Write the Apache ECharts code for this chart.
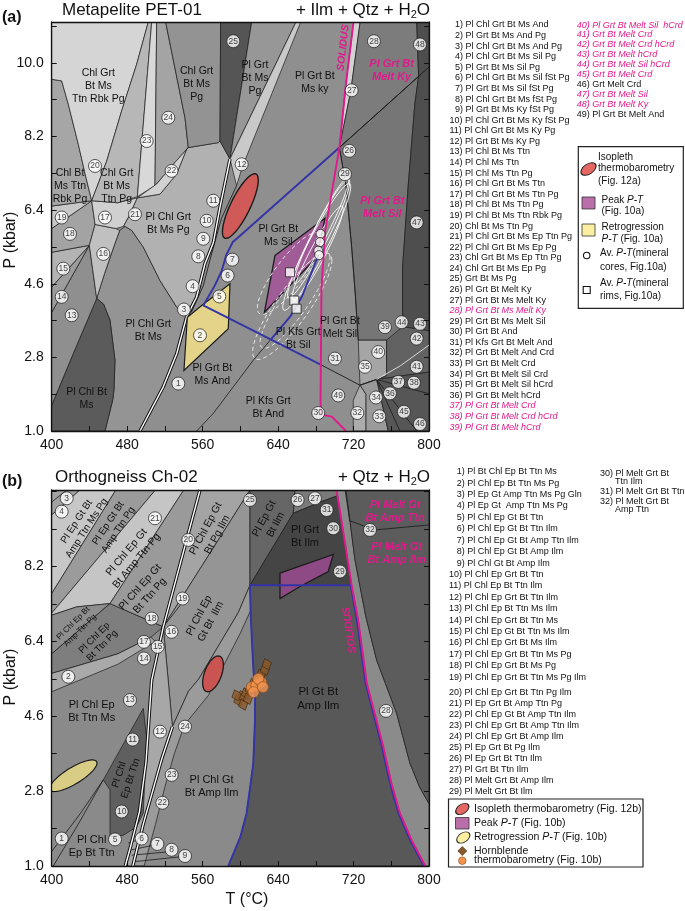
<!DOCTYPE html>
<html><head><meta charset="utf-8">
<script src="https://cdn.jsdelivr.net/npm/echarts/dist/echarts.min.js"></script>
<style>html,body{margin:0;padding:0;background:#fff}#c{width:685px;height:911px}</style>
</head><body><div id="c"></div>
<script>
const FONT = '"Liberation Sans", Arial, Helvetica, sans-serif';

// ---------------- PANEL (a) DATA: T (°C), P (kbar) ----------------
const fA_plChlMs = [[456.5,1.0],[464.7,1.76],[466,2.0],[467.1,2.73],[461.8,3.71],[455,4.1],[447.7,4.24],[456,4.85],[465,5.45],[472,5.9],[478,6.0],[485,5.9],[497,5.5],[514.8,4.68],[532.5,4.03],[543,3.79],[532.5,2.89],[518.3,2.08],[493.6,1.0]];
const fA_chlBtMs = [[400,1.0],[400,1.63],[423,2.9],[447.7,4.24],[455,4.1],[461.8,3.71],[467.1,2.73],[466,2.0],[464.7,1.76],[456.5,1.0]];
const fA_13 = [[400,3.9],[439.9,5.54],[447.7,4.24],[423,2.9],[400,1.63]];
const fA_14 = [[400,4.52],[439.9,5.54],[400,3.9]];
const fA_15 = [[400,5.37],[439.9,5.54],[400,4.52]];
const fA_18 = [[400,5.95],[442.4,6.63],[446,6.05],[439.9,5.54],[400,5.37]];
const fA_19 = [[400,6.5],[442.4,6.63],[400,5.95]];
const fA_chlBtRbk = [[400,9.6],[410.6,9.56],[417.6,8.99],[428.2,8.01],[436.3,7.2],[442.4,6.63],[400,6.5]];
const fA_chlRbk = [[400,11],[502.4,11],[490,9.96],[474.2,8.83],[458.3,7.6],[447.7,6.95],[442.4,6.63],[436.3,7.2],[428.2,8.01],[417.6,8.99],[410.6,9.56],[400,9.6]];
const fA_16 = [[439.9,5.54],[446,6.05],[468,5.95],[472,5.9],[465,5.45],[456,4.85],[447.7,4.24]];
const fA_17 = [[442.4,6.63],[470,6.58],[490.8,6.7],[482,6.25],[476,6.0],[468,5.95],[446,6.05]];
const fA_chlTtnPg = [[502.4,11],[506,11],[490.8,6.73],[470,6.58],[442.4,6.63],[447.7,6.95],[458.3,7.6],[474.2,8.83],[490,9.96]];
const fA_23 = [[506,11],[511.3,11],[509.5,7.0],[490.8,6.73]];
const fA_24 = [[511.3,11],[520.8,11],[541.3,8.66],[544.8,7.93],[528.9,7.52],[511.3,7.04],[509.5,7.0]];
const fA_plChlPg = [[490.8,6.7],[514.8,6.79],[532.4,7.28],[543,7.89],[544.8,7.93],[576.6,8.05],[578.4,8.09],[589,7.65],[578.4,6.47],[571.3,5.6],[562.5,5.09],[553.6,4.27],[543,3.79],[532.5,4.03],[514.8,4.68],[497,5.5],[485,5.9],[478,6.0],[476,6.0],[482,6.25]];
const fA_22 = [[490.8,6.7],[511.3,7.04],[528.9,7.52],[544.8,7.93],[543,7.89],[532.4,7.28],[514.8,6.79]];
const fA_chlPg = [[520.8,11],[579.1,11],[578.4,8.09],[576.6,8.05],[544.8,7.93],[541.3,8.66]];
const fA_25 = [[579.1,11],[612,11],[589,7.65],[578.4,8.09]];
const fA_plPg = [[612,11],[659,11],[589,7.65]];
const fA_12 = [[659,11],[664,11],[602,7.45],[596,7.0],[589,7.65]];
const fA_msMeltKy = [[720,11],[727,11],[717,9.3],[705,7.93],[712,9.5]];
const fA_meltKy = [[727,11],[787,11],[789,9.67],[705,7.93],[717,9.3]];
const fA_meltSilM = [[705,7.93],[789,9.67],[785,9.0],[778,7.0],[772,5.0],[772,3.55],[765.7,3.22],[725,3.22],[722,4.3],[718,5.5],[712,7.0]];
const fA_farRight = [[787,11],[800,11],[800,3.45],[772,3.55],[772,5.0],[778,7.0],[785,9.0],[789,9.67]];
const fA_40 = [[725,3.22],[755,3.22],[755,2.35],[744.5,2.26],[726.8,2.12]];
const fA_33 = [[726.8,2.12],[744.5,2.26],[756.8,1.0],[733,1.0],[733,1.9]];
const fA_32 = [[719.7,1.75],[726.8,2.12],[733,1.9],[733,1.0],[719.7,1.0]];
const fA_41 = [[755,3.22],[772,3.55],[800,3.45],[800,2.44],[744.5,2.26],[755,2.35]];
const fA_45 = [[744.5,2.26],[800,2.44],[800,1.0],[756.8,1.0]];

const peakA = [[636.7,5.29],[689.7,6.2],[681,5.25],[625.5,3.9]];
const retroA = [[540.2,2.48],[543.8,3.78],[559,4.07],[589,4.6],[587.2,3.5]];
// ellipses: [T centre, P centre, half-range T, half-range P, correlation]
const isoA = [[600,6.5,19,0.79,0.8]];
const coreEllA = [[683,5.7,33,1.45,0.955],[681,5.5,36,1.55,0.95],[686,5.9,29,1.3,0.96],[682,5.35,27,1.15,0.94]];
const rimEllA = [[655,4.05,42,1.3,0.86],[652,4.85,34,1.0,0.84],[658,4.2,37,1.18,0.88]];
const coresA = [[685,5.82],[684.4,5.62],[682.6,5.41],[683.5,5.3]];
const rimsA = [[652.6,4.88],[657.2,4.19],[659.6,3.99]];

const solidusA = [[720,11],[712,9.5],[705,7.93],[690,5.9],[686,4.5],[685,1.7],[686,1.4],[697,1.35],[712,1.0]];
const blueA1 = [[705,7.93],[597,5.72],[592,5.62],[585,5.3],[580,4.9],[573,4.56],[560.7,4.07],[686.2,2.61]];
const blueA2 = [[633.1,3.26],[652.6,3.79],[665,4.27],[675,4.85],[686,5.5]];
const kfsA = [[553.7,1.0],[571.3,1.43],[592.5,2.08],[613.7,2.73],[633.1,3.26]];
const andSilA = [[686.2,2.61],[726.8,2.12],[744.5,2.26]];
const kySilA = [[705,7.93],[800,9.9]];
const line29A = [[705,7.93],[712,7.0],[718,5.5],[722,4.3],[725,3.22]];
const dbl1A = [[543,3.79],[532.5,2.89],[518.3,2.08],[493.6,1.0]];
const dbl2A = [[543,3.79],[553.6,4.27],[562.5,5.09],[571.3,5.6],[578.4,6.47],[589,7.65]];
const thin3A = [[548,3.9],[560.7,4.55],[568,5.2],[580,6.2],[596,7.0]];
const radA1 = [[744.5,2.26],[800,1.91]];
const radA2 = [[744.5,2.26],[786.9,1.0]];
const radA3 = [[744.5,2.26],[769.2,1.0]];
const lightA = [[744.5,2.26],[770,2.6],[800,3.1]];

const txtA = [
 [449.4,9.43,'Chl Grt\nBt Ms\nTtn Rbk Pg'],[553.6,9.48,'Chl Grt\nBt Ms\nPg'],[615.5,9.64,'Pl Grt\nBt Ms\nPg'],
 [679,9.52,'Pl Grt Bt\nMs ky'],[419.4,6.99,'Chl Bt\nMs Ttn\nRbk Pg'],[468.9,6.99,'Chl Grt\nBt Ms\nTtn Pg'],
 [523.6,6.06,'Pl Chl Grt\nBt Ms Pg'],[640.2,5.78,'Pl Grt Bt\nMs Sil'],[502.4,3.46,'Pl Chl Grt\nBt Ms'],
 [437,1.79,'Pl Chl Bt\nMs'],[570.3,2.39,'Pl Grt Bt\nMs And'],[629.6,1.57,'Pl Kfs Grt\nBt And'],
 [661.4,3.26,'Pl Kfs Grt\nBt Sil'],[705.6,3.54,'Pl Grt Bt\nMelt Sil']
];
const txtMagA = [[760.4,9.82,'Pl Grt Bt\nMelt Ky'],[750.5,6.47,'Pl Grt Bt\nMelt Sil']];
const solTxtA = [[709.1,10.37,'SOLIDUS']];
const numA = [
 [592.5,10.53,25],[523.6,8.66,24],[500.7,8.09,23],[527.1,7.36,22],[445.9,7.48,20],[601.4,7.52,12],[571.3,6.63,11],[564.3,6.14,10],[488.3,6.3,21],[456.5,6.22,17],[410.6,6.22,19],[419.4,5.82,18],
 [560.7,5.7,9],[555.4,5.27,8],[591.5,5.19,7],[586.5,4.8,6],[549.4,4.54,4],[577.7,4.29,5],[540.2,3.97,3],[557.2,3.34,2],[534.2,2.16,1],[454.7,5.33,16],[412.3,4.97,15],[410.6,4.28,14],[421.2,3.83,13],
 [741.6,10.53,28],[790.4,10.45,48],[718,9.33,27],[715.5,7.85,26],[710.9,7.28,29],[786.9,6.1,47],
 [753.3,3.54,39],[771,3.66,44],[790.4,3.62,43],[786.9,3.26,42],[746.2,2.93,40],[786.9,2.57,41],[732.1,2.57,35],[700.3,2.77,31],[767.4,2.2,37],[784,2.18,38],[758.6,1.92,36],[743.8,1.82,34],[703.8,1.87,49],[773.4,1.47,45],[682.6,1.44,30],[724,1.44,32],[747.3,1.36,33],[790.4,1.17,46]
];
const listA = ['Pl Chl Grt Bt Ms And','Pl Grt Bt Ms And Pg','Pl Chl Grt Bt Ms And Pg','Pl Chl Grt Bt Ms Sil Pg','Pl Grt Bt Ms Sil Pg','Pl Chl Grt Bt Ms Sil fSt Pg','Pl Grt Bt Ms Sil fSt Pg','Pl Chl Grt Bt Ms fSt Pg','Pl Grt Bt Ms Ky fSt Pg','Pl Chl Grt Bt Ms Ky fSt Pg','Pl Chl Grt Bt Ms Ky Pg','Pl Grt Bt Ms Ky Pg','Pl Chl Bt Ms Ttn','Pl Chl Ms Ttn','Pl Chl Ms Ttn Pg','Pl Chl Grt Bt Ms Ttn','Pl Chl Grt Bt Ms Ttn Pg','Pl Chl Bt Ms Ttn Pg','Pl Chl Bt Ms Ttn Rbk Pg','Chl Bt Ms Ttn Pg','Pl Chl Grt Bt Ms Ep Ttn Pg','Pl Chl Grt Bt Ms Ep Pg','Chl Grt Bt Ms Ep Ttn Pg','Chl Grt Bt Ms Ep Pg','Grt Bt Ms Pg','Pl Grt Bt Melt Ky','Pl Grt Bt Ms Melt Ky','Pl Grt Bt Ms Melt Ky','Pl Grt Bt Ms Melt Sil','Pl Grt Bt And','Pl Kfs Grt Bt Melt And','Pl Grt Bt Melt And Crd','Pl Grt Bt Melt Crd','Pl Grt Bt Melt Sil Crd','Pl Grt Bt Melt Sil hCrd','Pl Grt Bt Melt hCrd','Pl Grt Bt Melt Crd','Pl Grt Bt Melt Crd hCrd','Pl Grt Bt Melt hCrd','Pl Grt Bt Melt Sil  hCrd','Grt Bt Melt Crd','Grt Bt Melt Crd hCrd','Grt Bt Melt hCrd','Grt Bt Melt Sil hCrd','Grt Bt Melt Crd','Grt Melt Crd','Grt Bt Melt Sil','Grt Bt Melt Ky','Pl Grt Bt Melt And'];
const magListA = [28,37,38,39,40,41,42,43,44,45,47,48];

// ---------------- PANEL (b) DATA ----------------
const fB_3 = [[400,10.04],[430,10.04],[400,9.44]];
const fB_msPg = [[430,10.04],[468,10.04],[400,7.55],[400,9.44]];
const fB_ttnPg = [[468,10.04],[510,10.04],[400,7.08],[400,7.55]];
const fB_chlAmp = [[510,10.04],[540,10.04],[461.8,7.31],[426.5,7.23],[400,7.03],[400,7.08]];
const fB_btAmp = [[400,7.03],[426.5,7.23],[461.8,7.31],[400,6.1]];
const fB_btTtnPg = [[400,6.1],[461.8,7.31],[518.3,6.75],[505,6.5],[470,6.1],[400,5.63]];
const fB_2 = [[400,5.63],[470,6.1],[505,6.5],[510,6.4],[470,5.85],[400,5.19]];
const fB_gtTtnPg = [[461.8,7.31],[540,10.04],[557.2,10.04],[518.3,6.75]];
const fB_pgIlm = [[557.2,10.04],[610.2,10.04],[518.3,6.75]];
const fB_ilm = [[518.3,6.75],[610.2,10.04],[610.2,7.75],[598,7.1],[556,5.5],[545,5.2],[528,4.35]];
const fB_12 = [[478,1.0],[484,1.5],[493,2.3],[500,3.5],[503,4.5],[506,5.47],[518.3,6.75],[528,4.35],[517,3.6],[507,2.8],[497,2.0],[486,1.0]];
const fB_2224 = [[486,1.0],[497,2.0],[507,2.8],[517,3.6],[528,4.35],[545,5.2],[556,5.5],[598,7.1],[610.2,7.75],[611,7.3],[612,7.2],[600,6.6],[566,5.1],[541,4.4],[530,3.7],[520,2.9],[510,2.0],[498,1.0]];
const fB_darkTtn = [[454.7,3.07],[497.1,4.79],[500.7,4.07],[497.1,2.27],[490,1.94],[476,1.74],[461.8,1.7],[461.8,2.83]];
const fB_ampIlm = [[587.2,1.0],[600,1.7],[606.6,2.27],[611,3.0],[613.7,3.47],[615.5,4.5],[615.5,5.11],[613.7,5.79],[611,7.0],[610.2,7.75],[718,7.75],[725,6.9],[734,5.4],[742,4.7],[751.5,3.87],[760,3.0],[769.2,2.27],[782,1.6],[796,1.0]];
const fB_epIlm = [[610.2,10.04],[658,10.04],[656.1,9.48],[610.2,7.75]];
const fB_2627 = [[658,10.04],[702,10.04],[705,9.92],[685,9.75],[656.1,9.48]];
const fB_grtIlm = [[610.2,7.75],[656.1,9.48],[685,9.75],[705,9.92],[710,8.9],[718,7.75]];
const fB_meltStrip = [[702,10.04],[712,10.04],[721.5,8.36],[733,7.0],[744.5,5.95],[765.7,4.67],[779.8,3.47],[790,2.9],[800,2.5],[800,1.0],[796,1.0],[782,1.6],[769.2,2.27],[760,3.0],[751.5,3.87],[742,4.7],[734,5.4],[725,6.9],[718,7.75],[710,8.9]];
const fB_meltRight = [[712,10.04],[800,10.04],[800,2.5],[790,2.9],[779.8,3.47],[765.7,4.67],[744.5,5.95],[733,7.0],[721.5,8.36]];

const peakB = [[642,8.04],[698.5,8.49],[693.2,8.08],[663.2,7.72],[642,7.43]];
const isoB = [[571,5.62,11,0.43,0.5]];
const retroB = [[423,3.17,25,0.38,0.8]];
const hblB = [[598,4.98],[602,5.08],[606,5.15],[610,5.25],[614,5.38],[618,5.48],[622,5.6],[626,5.72],[628,5.85],[603,4.88],[608,5.02],[596,5.1]];
const thermoB = [[612,5.3],[617,5.35],[622,5.42],[619,5.5],[614,5.18],[624,5.3]];

const solidusB = [[702,10.04],[710,8.9],[718,7.75],[725,6.9],[734,5.4],[742,4.7],[751.5,3.87],[760,3.0],[769.2,2.27],[782,1.6],[796,1.0]];
const blueB = [[587.2,1.0],[600,1.7],[606.6,2.27],[611,3.0],[613.7,3.47],[615.5,4.5],[615.5,5.11],[613.7,5.79],[611,7.0],[610.2,7.75],[717,7.75],[723.6,6.9],[732.6,5.4],[740.6,4.7],[750,3.87],[758.5,3.0],[767.6,2.27],[780.5,1.6],[794.5,1.0]];
const dbl1B = [[478,1.0],[484,1.5],[493,2.3],[500,3.5],[503,4.5],[506,5.47],[518.3,6.75],[557.2,10.04]];
const dbl2B = [[486,1.0],[497,2.0],[507,2.8],[517,3.6],[528,4.35]];
const l1B = [[401.7,1.0],[428,2.0],[454.7,3.07]];
const l1bB = [[400,1.35],[430,2.25],[454.7,3.07]];
const l19B = [[518.3,6.75],[537.7,7.31]];
const l34B = [[400,9.75],[416,10.04]];
const meltLineB = [[711,10.04],[716,9.3],[742.7,9.08],[800,9.2]];
const shortB1 = [[481.2,1.55],[491.8,1.63]];
const shortB2 = [[483,1.38],[507.7,1.5]];
const shortB3 = [[484.8,1.26],[523.6,1.34]];
const shortB4 = [[485.5,1.1],[536,1.22]];

const txtB = [
 [431.8,9.2,'Pl Ep Gt Bt\nAmp Ttn Ms Pg'],[465.3,9.16,'Pl Ep Gt Bt\nAmp Ttn Pg'],[484.8,8.44,'Pl Chl Ep Gt\nBt Amp Ttn Pg'],
 [498.9,7.6,'Pl Chl Ep Gt\nBt Ttn Pg'],[569.5,9.04,'Pl Chl Ep Gt\nBt Pg Ilm'],[562.5,6.95,'Pl Chl Ep\nGt Bt  Ilm'],
 [631.4,9.28,'Pl Ep Gt\nBt Ilm'],[668.5,8.93,'Pl Grt\nBt Ilm'],[426.5,6.75,'Pl Chl Ep Bt\nAmp Ttn Pg'],
 [449.4,6.39,'Pl Chl Ep\nBt Ttn Pg'],[442.4,4.71,'Pl Chl Ep\nBt Ttn Ms'],[477.7,3.15,'Pl Chl\nEp Bt Ttn'],
 [442.4,1.46,'Pl Chl\nEp Bt Ttn'],[569.5,2.91,'Pl Chl Gt\nBt Amp Ilm'],[682.6,5.03,'Pl Gt Bt\nAmp Ilm']
];
const rotB = [57,57,50,48,62,62,62,0,45,45,0,72,0,0,0];
const sizeB = [10,10,10.5,10.5,10.5,10.5,10.5,11,8,9.5,11,10,11,11,11.5];
const txtMagB = [[764,9.52,'Pl Melt Gt\nBt Amp Ttn'],[765.7,8.52,'Pl Melt Gt\nBt Amp Ilm']];
const solTxtB = [[716,6.67,'SOLIDUS']];
const numB = [
 [415.9,9.84,3],[410.6,9.52,4],[509.5,9.36,21],[544.8,8.84,20],[538.8,7.43,19],[506,6.95,18],[527.1,6.63,16],[497.8,6.39,17],[512.3,6.27,15],[497.8,5.99,14],[417.6,5.55,2],
 [610.2,9.8,25],[660.7,9.8,26],[679.1,9.84,27],[691.5,9.56,31],[698.5,9.12,30],[737.4,9.08,32],[705.6,8.08,29],[754.4,4.73,28],
 [483,4.99,13],[541.3,4.35,24],[514.8,4.23,12],[485.8,4.04,11],[527.2,3.19,23],[517.3,2.52,22],[474.2,2.31,10],[410.6,1.66,1],[467.1,1.64,5],[495.4,1.66,6],[512,1.53,7],[527.1,1.39,8],[541.3,1.24,9]
];
const listB = ['Pl Bt Chl Ep Bt Ttn Ms','Pl Chl Ep Bt Ttn Ms Pg','Pl Ep Gt Amp Ttn Ms Pg Gln','Pl Ep Gt  Amp Ttn Ms Pg','Pl Chl Ep Gt Bt Ttn','Pl Chl Ep Gt Bt Ttn Ilm','Pl Chl Ep Gt Bt Amp Ttn Ilm','Pl Chl Ep Gt Bt Amp Ilm','Pl Chl Gt Bt Amp Ilm','Pl Chl Ep Grt Bt Ttn','Pl Chl Ep Bt Ttn Ilm','Pl Chl Ep Grt Bt Ttn Ilm','Pl Chl Ep Bt Ttn Ms Ilm','Pl Chl Ep Grt Bt Ttn Ms','Pl Chl Ep Gt Bt Ttn Ms Ilm','Pl Chl Ep Grt Bt Ms Ilm','Pl Chl Ep Grt Bt Ttn Ms Pg','Pl Chl Ep Grt Bt Ms Pg','Pl Chl Ep Grt Bt Ttn Ms Pg Ilm','Pl Chl Ep Grt Bt Ttn Pg Ilm','Pl Ep Grt Bt Amp Ttn Pg','Pl Chl Ep Gt Bt Amp Ttn Ilm','Pl Chl Ep Grt Bt Amp Ttn Ilm','Pl Chl Ep Grt Bt Amp Ilm','Pl Ep Grt Bt Pg Ilm','Pl Ep Grt Bt Ttn Ilm','Pl Grt Bt Ttn Ilm','Pl Melt Grt Bt Amp Ilm','Pl Melt Grt Bt Ilm'];
const listB2 = ['30) Pl Melt Grt Bt','      Ttn Ilm','31) Pl Melt Grt Bt Ttn','32) Pl Melt Grt Bt','      Amp Ttn'];

// ---------------- STYLES ----------------
const fillsA = ['#949494','#5b5b5b','#8f8f8f','#9c9c9c','#b3b3b3','#a3a3a3','#c8c8c8','#a6a6a6','#d5d5d5','#c0c0c0','#d0d0d0','#b7b7b7','#d8d8d8','#a4a4a4','#b1b1b1','#d2d2d2','#939393','#555555','#979797','#c9c9c9','#d2d2d2','#7c7c7c','#767676','#4e4e4e','#a5a5a5','#9a9a9a','#acacac','#626262','#565656'];
const polysA = [fA_plChlMs,fA_chlBtMs,fA_13,fA_14,fA_15,fA_18,fA_19,fA_chlBtRbk,fA_chlRbk,fA_16,fA_17,fA_chlTtnPg,fA_23,fA_24,fA_plChlPg,fA_22,fA_chlPg,fA_25,fA_plPg,fA_12,fA_msMeltKy,fA_meltKy,fA_meltSilM,fA_farRight,fA_40,fA_33,fA_32,fA_41,fA_45];
const polysB = [fB_3,fB_msPg,fB_ttnPg,fB_chlAmp,fB_btAmp,fB_btTtnPg,fB_2,fB_gtTtnPg,fB_pgIlm,fB_ilm,fB_12,fB_2224,fB_darkTtn,fB_ampIlm,fB_epIlm,fB_2627,fB_grtIlm,fB_meltStrip,fB_meltRight];
const fillsB = ['#a2a2a2','#c7c7c7','#9b9b9b','#c5c5c5','#8e8e8e','#7e7e7e','#a9a9a9','#9a9a9a','#a4a4a4','#959595','#a7a7a7','#9b9b9b','#5f5f5f','#585858','#666666','#7a7a7a','#454545','#8b8b8b','#5c5c5c'];
const MAG = '#e2198c', BLUE = '#3434a6';

// ---------------- HELPERS ----------------
function ellipsePts(e){const [tc,pc,st,sp,rho]=e;const q=Math.sqrt(1-rho*rho);const out=[];for(let k=0;k<72;k++){const t=2*Math.PI*k/72;out.push([tc+st*Math.cos(t),pc+sp*(rho*Math.cos(t)+q*Math.sin(t))]);}return out;}
function polyLayer(gi, polys, fills, o){
  o=o||{};
  return {type:'custom',coordinateSystem:'cartesian2d',xAxisIndex:gi,yAxisIndex:gi*2,z:o.z||2,silent:true,clip:true,animation:false,
    data:polys.map(p=>p[0]),
    renderItem:(params,api)=>{const p=polys[params.dataIndex];
      return {type:'polygon',shape:{points:p.map(q=>api.coord(q))},
        style:{fill:Array.isArray(fills)?fills[params.dataIndex]:fills,stroke:o.stroke||'#1c1c1c',lineWidth:o.lw==null?0.7:o.lw,lineDash:o.dash||null}};}};
}
function lineLayer(gi, pts, color, width, z, dash){
  return {type:'line',xAxisIndex:gi,yAxisIndex:gi*2,data:pts,symbol:'none',silent:true,animation:false,clip:true,z:z||5,
    lineStyle:{color:color,width:width,type:dash||'solid'}};
}
function textLayer(gi, items, st, rots, sizes){
  return {type:'custom',coordinateSystem:'cartesian2d',xAxisIndex:gi,yAxisIndex:gi*2,z:20,silent:true,animation:false,
    data:items.map(t=>[t[0],t[1]]),
    renderItem:(params,api)=>{const it=items[params.dataIndex];const c=api.coord([it[0],it[1]]);
      const r=rots?rots[params.dataIndex]:(st.rot||0);const fs=sizes?sizes[params.dataIndex]:st.size;
      return {type:'text',x:c[0],y:c[1],rotation:r*Math.PI/180,
        style:{text:it[2],fill:st.color||'#111',fontSize:fs,fontFamily:FONT,fontStyle:st.italic?'italic':'normal',fontWeight:st.bold?'bold':'normal',
          align:'center',verticalAlign:'middle',lineHeight:Math.round(fs*1.2)}};}};
}
function numLayer(gi, items){
  return {type:'scatter',xAxisIndex:gi,yAxisIndex:gi*2,z:30,silent:true,animation:false,data:items,symbol:'circle',symbolSize:13,
    itemStyle:{color:'#fff',borderColor:'#1a1a1a',borderWidth:0.9},
    label:{show:true,position:'inside',formatter:p=>String(p.value[2]),fontSize:8.5,color:'#111',fontFamily:FONT}};
}
function xAx(gi){return {type:'value',gridIndex:gi,position:'bottom',min:400,max:800,interval:40,z:50,
  axisLine:{show:true,onZero:false,lineStyle:{color:'#111',width:1.3}},axisTick:{show:true,inside:true,length:5,lineStyle:{color:'#111'}},
  axisLabel:{color:'#111',fontSize:14,fontFamily:FONT,margin:7,formatter:v=>(Math.round(v)%80===0?String(Math.round(v)):'')},splitLine:{show:false}};}
function xTop(gi){return {type:'value',gridIndex:gi,position:'top',min:400,max:800,interval:40,z:50,
  axisLine:{show:true,onZero:false,lineStyle:{color:'#111',width:1.3}},axisTick:{show:false},axisLabel:{show:false},splitLine:{show:false}};}
function yAx(gi,pos,max,fmt){return {type:'value',gridIndex:gi,position:pos,min:1,max:max,interval:0.9,z:50,
  axisLine:{show:true,onZero:false,lineStyle:{color:'#111',width:1.3}},axisTick:{show:true,inside:true,length:5,lineStyle:{color:'#111'}},
  axisLabel:{show:!!fmt,formatter:fmt||undefined,color:'#111',fontSize:14,fontFamily:FONT,margin:8,showMaxLabel:false},splitLine:{show:false}};}
const fmtA=v=>{const k=(v-1)/1.8;return (Math.abs(k-Math.round(k))<1e-4&&v<10.5)?v.toFixed(1):'';};
const fmtB=v=>{const k=(v-1)/1.8;return (Math.abs(k-Math.round(k))<1e-4&&v<9)?v.toFixed(1):'';};

// ---------------- SERIES ----------------
const series = [];
// panel a
series.push(polyLayer(0, polysA, fillsA));
series.push(lineLayer(0, dbl1A, '#111', 3.4, 6)); series.push(lineLayer(0, dbl1A, '#fff', 1.4, 7));
series.push(lineLayer(0, dbl2A, '#111', 3.4, 6)); series.push(lineLayer(0, dbl2A, '#fff', 1.4, 7));
series.push(lineLayer(0, thin3A, '#111', 0.8, 6));
series.push(lineLayer(0, kfsA, '#1a1a1a', 0.8, 6));
series.push(lineLayer(0, andSilA, '#1a1a1a', 0.9, 6));
series.push(lineLayer(0, kySilA, '#1a1a1a', 0.9, 6));
series.push(lineLayer(0, line29A, '#1a1a1a', 0.8, 6));
series.push(lineLayer(0, radA1, '#1a1a1a', 0.8, 6));
series.push(lineLayer(0, radA2, '#1a1a1a', 0.8, 6));
series.push(lineLayer(0, radA3, '#1a1a1a', 0.8, 6));
series.push(lineLayer(0, lightA, '#d8d8d8', 1.0, 6));
series.push(polyLayer(0, [retroA], '#e3d48a', {z:8, lw:1.2}));
series.push(polyLayer(0, isoA.map(ellipsePts), '#cf5a58', {z:8, lw:1.4}));
series.push(polyLayer(0, [peakA], '#a05c96', {z:8, lw:1.3}));
series.push(polyLayer(0, coreEllA.map(ellipsePts), 'none', {z:9, lw:0.9, stroke:'#ffffff'}));
series.push(polyLayer(0, rimEllA.map(ellipsePts), 'none', {z:9, lw:0.9, stroke:'#f2f2f2', dash:[4,3]}));
series.push(lineLayer(0, blueA1, BLUE, 1.9, 10));
series.push(lineLayer(0, blueA2, BLUE, 1.9, 10));
series.push(lineLayer(0, solidusA, MAG, 1.9, 11));
series.push({type:'scatter',xAxisIndex:0,yAxisIndex:0,z:12,silent:true,animation:false,data:rimsA,symbol:'rect',symbolSize:9,itemStyle:{color:'#fff',borderColor:'#111',borderWidth:0.9}});
series.push({type:'scatter',xAxisIndex:0,yAxisIndex:0,z:12,silent:true,animation:false,data:coresA,symbol:'circle',symbolSize:9,itemStyle:{color:'#fff',borderColor:'#111',borderWidth:0.9}});
series.push(textLayer(0, txtA, {size:10.5}));
series.push(textLayer(0, txtMagA, {size:11, color:MAG, italic:true, bold:true}));
series.push(textLayer(0, solTxtA, {size:10.5, color:MAG, italic:true, bold:true, rot:83.6}));
series.push(numLayer(0, numA));
// panel b
series.push(polyLayer(1, polysB, fillsB));
series.push(lineLayer(1, dbl1B, '#111', 3.4, 6)); series.push(lineLayer(1, dbl1B, '#fff', 1.4, 7));
series.push(lineLayer(1, dbl2B, '#111', 3.4, 6)); series.push(lineLayer(1, dbl2B, '#fff', 1.4, 7));
[l1B,l1bB,l19B,l34B,meltLineB,shortB1,shortB2,shortB3,shortB4].forEach(l=>series.push(lineLayer(1, l, '#1a1a1a', 0.8, 6)));
series.push(polyLayer(1, retroB.map(ellipsePts), '#d9cd86', {z:8, lw:1.2}));
series.push(polyLayer(1, isoB.map(ellipsePts), '#c95452', {z:8, lw:1.3}));
series.push(polyLayer(1, [peakB], '#8e4a84', {z:8, lw:1.3}));
series.push(lineLayer(1, blueB, BLUE, 1.9, 10));
series.push(lineLayer(1, solidusB, MAG, 1.9, 11));
series.push({type:'scatter',xAxisIndex:1,yAxisIndex:2,z:12,silent:true,animation:false,data:hblB,symbol:'diamond',symbolSize:[10,12],symbolRotate:20,itemStyle:{color:'#8b5a2b',borderColor:'#3d2208',borderWidth:0.7}});
series.push({type:'scatter',xAxisIndex:1,yAxisIndex:2,z:13,silent:true,animation:false,data:thermoB,symbol:'circle',symbolSize:11,itemStyle:{color:'#f39450',borderColor:'#8a4614',borderWidth:0.7}});
series.push(textLayer(1, txtB, {size:10.5}, rotB, sizeB));
series.push(textLayer(1, txtMagB, {size:11, color:MAG, italic:true, bold:true}));
series.push(textLayer(1, solTxtB, {size:10.5, color:MAG, italic:true, bold:true, rot:98}));
series.push(numLayer(1, numB));

// ---------------- GRAPHICS (titles, lists, legends) ----------------
const G = [];
function gText(x,y,text,o){o=o||{};const fs=o.size||9;
  const st={text:text,fill:o.color||'#111',fontSize:fs,fontFamily:FONT,fontStyle:o.italic?'italic':'normal',fontWeight:o.bold?'bold':'normal',
    align:o.align||'left',textAlign:o.align||'left',verticalAlign:'middle',textVerticalAlign:'middle'};
  if(o.rich) st.rich=o.rich;
  G.push({type:'text',x:x,y:y,rotation:o.rot||0,silent:true,z:100,style:st});}
const RICH10 = {i:{fontStyle:'italic',fontSize:10,fontFamily:FONT,fill:'#111'}};
const RICH105 = {i:{fontStyle:'italic',fontSize:10.5,fontFamily:FONT,fill:'#111'}};
// titles a
gText(2,18,'(a)',{size:16,bold:true});
gText(62,10,'Metapelite PET-01',{size:17});
gText(430,10,'O',{size:17,align:'right'});
gText(416.8,15,'2',{size:11,align:'right'});
gText(410.7,10,'+ Ilm + Qtz + H',{size:17,align:'right'});
gText(11,240,'P (kbar)',{size:16,align:'center',rot:Math.PI/2});
// titles b
gText(2,482,'(b)',{size:16,bold:true});
gText(55,477,'Orthogneiss Ch-02',{size:17});
gText(430,477,'O',{size:17,align:'right'});
gText(416.8,482,'2',{size:11,align:'right'});
gText(410.7,477,'+ Qtz + H',{size:17,align:'right'});
gText(11,677,'P (kbar)',{size:16,align:'center',rot:Math.PI/2});
gText(247,900,'T (°C)',{size:16,align:'center'});
// list a
listA.forEach((s,i)=>{const n=i+1;const mag=magListA.indexOf(n)>=0;
  let x,y; if(n<=39){x=n<10?455:449.5;y=25+(n-1)*10.58;}else{x=576.7;y=25+(n-40)*9.92;}
  gText(x,y,n+') '+s,{size:9,color:mag?MAG:'#111',italic:mag});});
// legend a
G.push({type:'rect',shape:{x:578.3,y:146.7,width:105,height:161.6},style:{fill:'#fff',stroke:'#222',lineWidth:1.2},z:99,silent:true});
G.push({type:'circle',shape:{cx:0,cy:0,r:5},x:588.5,y:169,scaleX:1.7,scaleY:1,rotation:0.6,style:{fill:'#e56763',stroke:'#222',lineWidth:0.8},z:101,silent:true});
gText(598,157,'Isopleth',{size:10}); gText(598,168.5,'thermobarometry',{size:10}); gText(598,181,'(Fig. 12a)',{size:10});
G.push({type:'rect',shape:{x:582,y:197,width:13,height:12},style:{fill:'#b96fa9',stroke:'#333',lineWidth:0.8},z:101,silent:true});
gText(601.5,200,'Peak {i|P-T}',{size:10,rich:RICH10}); gText(601.5,211.5,'(Fig. 10a)',{size:10});
G.push({type:'rect',shape:{x:582,y:224,width:13,height:12},style:{fill:'#fbeea0',stroke:'#333',lineWidth:0.8},z:101,silent:true});
gText(601.5,227.7,'Retrogression',{size:10}); gText(601.5,239,'{i|P-T} (Fig. 10a)',{size:10,rich:RICH10});
G.push({type:'circle',shape:{cx:586.7,cy:255.5,r:3.2},style:{fill:'#fff',stroke:'#111',lineWidth:1.1},z:101,silent:true});
gText(600,253.3,'Av. {i|P-T}(mineral',{size:10,rich:RICH10}); gText(600,267.5,'cores, Fig.10a)',{size:10});
G.push({type:'rect',shape:{x:583.2,y:286.5,width:7,height:7},style:{fill:'#fff',stroke:'#111',lineWidth:1.1},z:101,silent:true});
gText(600,283.3,'Av. {i|P-T}(mineral',{size:10,rich:RICH10}); gText(600,296.7,'rims, Fig.10a)',{size:10});
// list b
listB.forEach((s,i)=>{const n=i+1;const x=n<10?456.7:449;const y=n<=19?471.7+(n-1)*11.42:692.3+(n-20)*11.04;gText(x,y,n+') '+s,{size:9});});
[474,482,492,502,510].forEach((y,i)=>gText(600,y,listB2[i],{size:9}));
// legend b
G.push({type:'rect',shape:{x:448.5,y:799,width:194.5,height:68},style:{fill:'#fff',stroke:'#222',lineWidth:1.2},z:99,silent:true});
G.push({type:'circle',shape:{cx:0,cy:0,r:4.6},x:462.3,y:809,scaleX:1.6,scaleY:1,rotation:0.6,style:{fill:'#e56763',stroke:'#222',lineWidth:0.8},z:101,silent:true});
gText(474,809,'Isopleth thermobarometry (Fig. 12b)',{size:10.5});
G.push({type:'rect',shape:{x:455.5,y:817.5,width:13.5,height:11.5},style:{fill:'#b96fa9',stroke:'#333',lineWidth:0.8},z:101,silent:true});
gText(474,823.3,'Peak {i|P-T} (Fig. 10b)',{size:10.5,rich:RICH105});
G.push({type:'circle',shape:{cx:0,cy:0,r:4.6},x:463.3,y:837.5,scaleX:1.6,scaleY:1,rotation:0.6,style:{fill:'#fbeea0',stroke:'#333',lineWidth:0.8},z:101,silent:true});
gText(474,837.3,'Retrogression {i|P-T} (Fig. 10b)',{size:10.5,rich:RICH105});
G.push({type:'polygon',shape:{points:[[462.3,846.5],[466.8,851],[462.3,855.5],[457.8,851]]},style:{fill:'#8b5a2b',stroke:'#3d2208',lineWidth:0.6},z:101,silent:true});
gText(474,851,'Hornblende',{size:10.5});
G.push({type:'circle',shape:{cx:462.3,cy:860.7,r:3.8},style:{fill:'#f39450',stroke:'#8a4614',lineWidth:0.6},z:101,silent:true});
gText(474,860.3,'thermobarometry (Fig. 10b)',{size:10.5});

const option = {
  backgroundColor:'#fff', animation:false,
  grid:[{left:51.7,top:22,right:256,bottom:480,show:true,backgroundColor:'#8f8f8f',borderWidth:0},
        {left:51.7,top:490,right:256,bottom:45,show:true,backgroundColor:'#8a8a8a',borderWidth:0}],
  xAxis:[xAx(0),xAx(1),xTop(0),xTop(1)],
  yAxis:[yAx(0,'left',11,fmtA),yAx(0,'right',11,null),yAx(1,'left',10.04,fmtB),yAx(1,'right',10.04,null)],
  series:series,
  graphic:{elements:G}
};
const chart = echarts.init(document.getElementById('c'), null, {renderer:'canvas', width:685, height:911});
chart.setOption(option);
</script></body></html>
